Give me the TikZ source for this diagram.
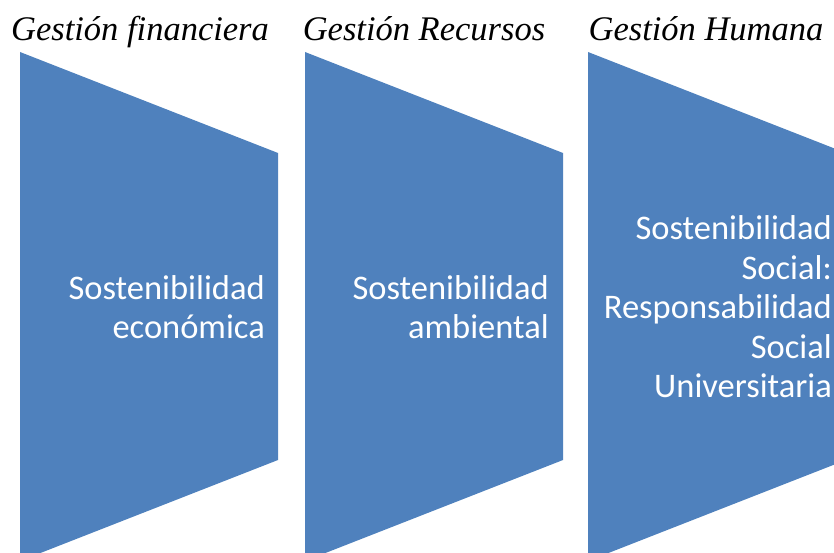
\documentclass[tikz,border=0pt]{standalone}
\usepackage{fontspec}
\setmainfont{Liberation Serif}
\setsansfont{Carlito}
\definecolor{bloque}{HTML}{4F81BD}
\tikzset{
  titulo/.style={anchor=base, inner sep=0pt, font=\fontsize{34.5}{40}\selectfont\itshape},
  texto/.style={anchor=east, inner sep=0pt, align=right, text=white,
    font=\fontsize{34.5}{39.5}\selectfont\sffamily}
}

\begin{document}
\begin{tikzpicture}[x=1pt, y=-1pt]
\useasboundingbox (0,0) rectangle (834,553);
\clip (0,0) rectangle (834,553);

% bloques
\fill[bloque] (20, 52) -- (278, 153) -- (278, 460) -- (20, 561) -- cycle;
\fill[bloque] (305, 52) -- (563, 153) -- (563, 460) -- (305, 561) -- cycle;
\fill[bloque] (588, 52) -- (846, 153) -- (846, 460) -- (588, 561) -- cycle;

% titulos
\node[titulo] (tit-fin) at (140, 41) {Gestión financiera};
\node[titulo] (tit-rec) at (424, 41) {Gestión Recursos};
\node[titulo] (tit-hum) at (706, 41) {Gestión Humana};

% textos
\node[texto] (txt-eco) at (265, 307) {Sostenibilidad\\económica};
\node[texto] (txt-amb) at (549, 307) {Sostenibilidad\\ambiental};
\node[texto] (txt-soc) at (832, 307) {Sostenibilidad\\Social:\\Responsabilidad\\Social\\Universitaria};
\end{tikzpicture}
\end{document}
